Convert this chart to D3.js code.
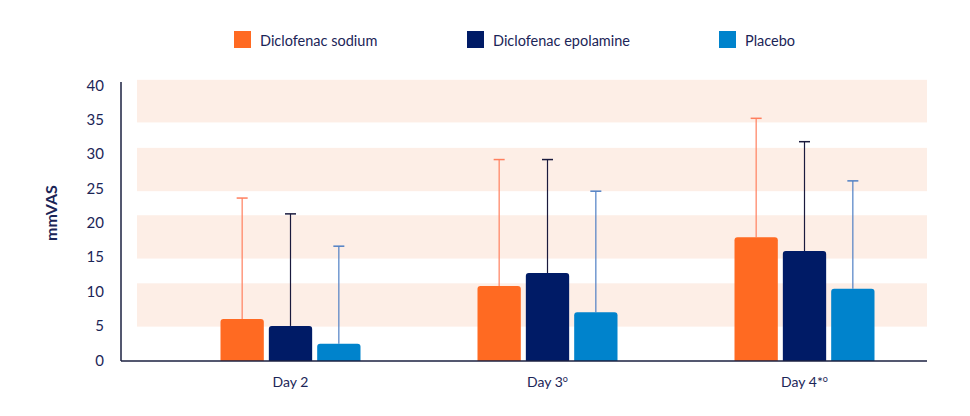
<!DOCTYPE html>
<html>
<head>
<meta charset="utf-8">
<script src="https://cdn.jsdelivr.net/npm/d3@7"></script>
<style>
  body { margin: 0; background: #fff; }
  text { font-family: Lato, "Open Sans", sans-serif; fill: #1b2557; }
</style>
</head>
<body>
<svg id="chart"></svg>
<script>
var days = ["Day 2", "Day 3", "Day 4*"];
var daySup = ["", "o", "o"];
var seriesNames = ["Diclofenac sodium", "Diclofenac epolamine", "Placebo"];
var sodium = [6.1, 10.9, 18.0];
var epolamine = [5.1, 12.8, 16.0];
var placebo = [2.5, 7.1, 10.5];
var sodiumErr = [23.7, 29.3, 35.3];
var epolamineErr = [21.4, 29.3, 31.9];
var placeboErr = [16.7, 24.7, 26.2];
var yTicks = [0, 5, 10, 15, 20, 25, 30, 35, 40];
var bands = [[5, 11.3], [14.9, 21.2], [24.7, 31], [34.7, 40.9]];

var colors = ["#ff6a22", "#001b66", "#0083cc"];
var errColors = ["#ff7f5e", "#1a1a3d", "#4f7fc4"];

var width = 970, height = 416;
var plotLeft = 121, plotRight = 927, plotTop = 82, plotBottom = 361;

var svg = d3.select("#chart").attr("width", width).attr("height", height);

var y = d3.scaleLinear().domain([0, 40]).range([plotBottom, 86]);
var x = d3.scaleBand().domain(days).range([162, 933]).paddingInner(0).paddingOuter(0);
var xs = d3.scaleBand().domain(seriesNames).range([-70, 70]).paddingInner(0.104).paddingOuter(0);

function cx(d) { return x(d.day) + x.bandwidth() / 2 + xs(d.name) + xs.bandwidth() / 2; }

// background bands
svg.selectAll("rect.band")
    .data(bands)
    .enter()
    .append("rect")
    .attr("class", "band")
    .attr("x", 137)
    .attr("width", plotRight - 137)
    .attr("y", function (d) { return y(d[1]); })
    .attr("height", function (d) { return y(d[0]) - y(d[1]); })
    .attr("fill", "#fdeee6");

var rows = [];
days.forEach(function (day, i) {
    [sodium, epolamine, placebo].forEach(function (vals, s) {
        var errs = [sodiumErr, epolamineErr, placeboErr][s];
        rows.push({ day: day, s: s, name: seriesNames[s], v: vals[i], e: errs[i] });
    });
});

// error bars (upper only)
var eb = svg.selectAll("g.err").data(rows).enter().append("g").attr("class", "err");
eb.append("line")
    .attr("x1", cx)
    .attr("x2", cx)
    .attr("y1", function (d) { return y(d.v); })
    .attr("y2", function (d) { return y(d.e); })
    .attr("stroke", function (d) { return errColors[d.s]; })
    .attr("stroke-width", 1.2);
eb.append("line")
    .attr("x1", function (d) { return cx(d) - 5.5; })
    .attr("x2", function (d) { return cx(d) + 5.5; })
    .attr("y1", function (d) { return y(d.e); })
    .attr("y2", function (d) { return y(d.e); })
    .attr("stroke", function (d) { return errColors[d.s]; })
    .attr("stroke-width", 1.5);

// bars with rounded top corners
function barPath(x0, w, yTop, yBot, r) {
    return "M" + x0 + "," + yBot +
        "V" + (yTop + r) +
        "Q" + x0 + "," + yTop + " " + (x0 + r) + "," + yTop +
        "H" + (x0 + w - r) +
        "Q" + (x0 + w) + "," + yTop + " " + (x0 + w) + "," + (yTop + r) +
        "V" + yBot + "Z";
}
svg.selectAll("path.bar")
    .data(rows)
    .enter()
    .append("path")
    .attr("class", "bar")
    .attr("d", function (d) {
        var x0 = x(d.day) + x.bandwidth() / 2 + xs(d.name);
        return barPath(x0, xs.bandwidth(), y(d.v), y(0), 3);
    })
    .attr("fill", function (d) { return colors[d.s]; });

// axis lines
svg.append("line").attr("x1", plotLeft).attr("x2", plotLeft).attr("y1", plotTop).attr("y2", plotBottom)
    .attr("stroke", "#1b2040").attr("stroke-width", 1.5);
svg.append("line").attr("x1", plotLeft).attr("x2", plotRight).attr("y1", plotBottom).attr("y2", plotBottom)
    .attr("stroke", "#1b2040").attr("stroke-width", 1.5);

// y tick labels
svg.selectAll("text.ytick")
    .data(yTicks)
    .enter()
    .append("text")
    .attr("class", "ytick")
    .attr("x", 104)
    .attr("y", function (d) { return y(d); })
    .attr("dy", "0.3em")
    .attr("text-anchor", "end")
    .attr("font-size", 15)
    .text(function (d) { return d; });

// y label
svg.append("text")
    .attr("transform", "translate(57,213) rotate(-90)")
    .attr("text-anchor", "middle")
    .attr("font-size", 16)
    .attr("font-weight", "bold")
    .text("mmVAS");

// x labels
var xl = svg.selectAll("text.xtick")
    .data(days)
    .enter()
    .append("text")
    .attr("class", "xtick")
    .attr("x", function (d) { return x(d) + x.bandwidth() / 2; })
    .attr("y", 387)
    .attr("text-anchor", "middle")
    .attr("font-size", 14);
xl.append("tspan").text(function (d) { return d; });
xl.append("tspan")
    .attr("font-size", 9)
    .attr("dy", -5)
    .text(function (d, i) { return daySup[i]; });

// legend
var legX = [234, 467, 719];
var leg = svg.selectAll("g.leg")
    .data(seriesNames)
    .enter()
    .append("g")
    .attr("class", "leg")
    .attr("transform", function (d, i) { return "translate(" + legX[i] + ",31)"; });
leg.append("rect").attr("width", 17).attr("height", 17)
    .attr("fill", function (d, i) { return colors[i]; });
leg.append("text").attr("x", 26).attr("y", 14.5).attr("font-size", 14.5)
    .text(function (d) { return d; });
</script>
</body>
</html>
